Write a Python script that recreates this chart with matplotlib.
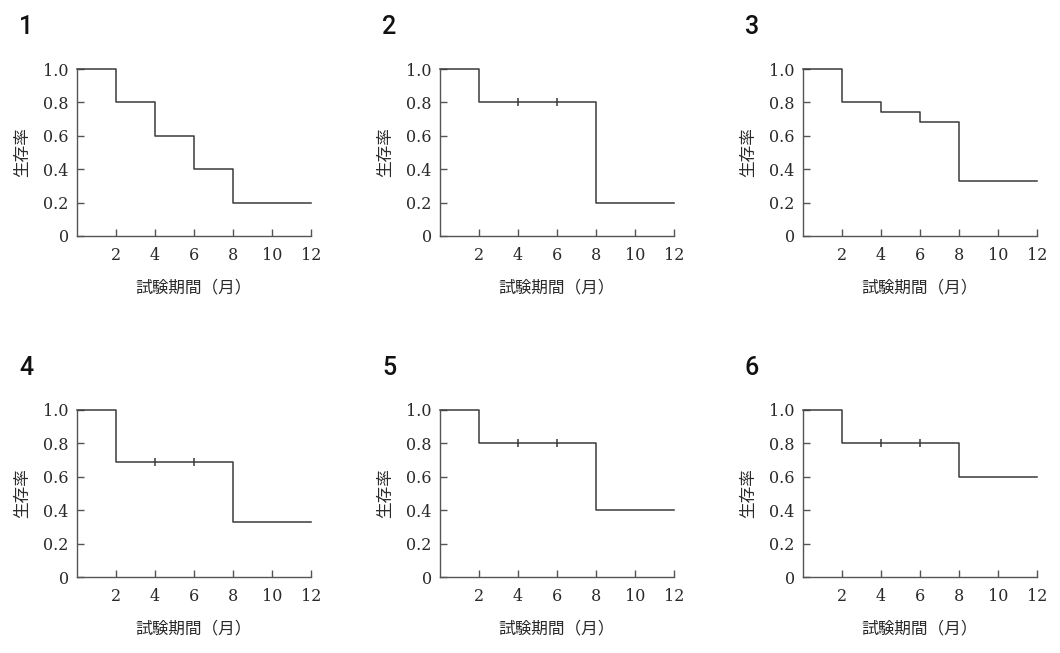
import matplotlib
matplotlib.use("Agg")
from matplotlib import pyplot as plt

W, H = 1060, 653

# step times / survival values for each panel
t1 = [0, 2, 4, 6, 8, 12]
s1 = [1.0, 0.8, 0.6, 0.4, 0.2, 0.2]
t2 = [0, 2, 8, 12]
s2 = [1.0, 0.8, 0.2, 0.2]
t3 = [0, 2, 4, 6, 8, 12]
s3 = [1.0, 0.8, 0.74, 0.68, 0.33, 0.33]
t4 = [0, 2, 8, 12]
s4 = [1.0, 0.69, 0.33, 0.33]
t5 = [0, 2, 8, 12]
s5 = [1.0, 0.8, 0.4, 0.4]
t6 = [0, 2, 8, 12]
s6 = [1.0, 0.8, 0.6, 0.6]

# censored points (time, survival)
c2 = ([4, 6], [0.8, 0.8])
c4 = ([4, 6], [0.69, 0.69])
c5 = ([4, 6], [0.8, 0.8])
c6 = ([4, 6], [0.8, 0.8])

panels = [
    ("1", t1, s1, None),
    ("2", t2, s2, c2),
    ("3", t3, s3, None),
    ("4", t4, s4, c4),
    ("5", t5, s5, c5),
    ("6", t6, s6, c6),
]

xticks = [2, 4, 6, 8, 10, 12]
yticks = [0, 0.2, 0.4, 0.6, 0.8, 1.0]
yticklabels = ["0", "0.2", "0.4", "0.6", "0.8", "1.0"]

xlabel = "試験期間（月）"
ylabel = "生存率"

cjk = ["Noto Sans CJK JP", "DejaVu Sans"]
serif = "DejaVu Serif"
line_c = "#3a3a3a"
axis_c = "#555555"
text_c = "#2a2a2a"

fig = plt.figure(figsize=(W / 100, H / 100), dpi=100)

lefts = [77, 440, 803]
tops = [69, 410]
aw, ah = 234, 167

for i, (num, t, s, cens) in enumerate(panels):
    left = lefts[i % 3]
    top = tops[i // 3]
    ax = fig.add_axes([left / W, 1 - (top + ah) / H, aw / W, ah / H])
    ax.step(t, s, where="post", color=line_c, lw=1.1, clip_on=False)
    if cens is not None:
        ax.plot(cens[0], cens[1], ls="none", marker="|", ms=6, mew=1.1,
                color=line_c, clip_on=False)
    ax.set_xlim(0, 12)
    ax.set_ylim(0, 1.0)
    ax.set_xticks(xticks)
    ax.set_yticks(yticks)
    ax.set_yticklabels(yticklabels)
    for sp in ["top", "right"]:
        ax.spines[sp].set_visible(False)
    for sp in ["left", "bottom"]:
        ax.spines[sp].set_color(axis_c)
        ax.spines[sp].set_linewidth(1.0)
    ax.tick_params(direction="in", length=5, width=1.0, color=axis_c,
                   labelsize=11.5, labelcolor=text_c)
    ax.tick_params(axis="x", pad=8)
    ax.tick_params(axis="y", pad=6)
    for lab in ax.get_xticklabels() + ax.get_yticklabels():
        lab.set_family(serif)
    ax.set_xlabel(xlabel, family=cjk, fontsize=12, color=text_c, labelpad=11)
    ax.set_ylabel(ylabel, family=cjk, fontsize=12, color=text_c, labelpad=9)
    fig.text((left - 58) / W, 1 - (top - 54) / H, num, ha="left", va="top",
             fontsize=18, fontweight="medium", family="Roboto", color="#111111")

fig.savefig("out.png", dpi=100)
